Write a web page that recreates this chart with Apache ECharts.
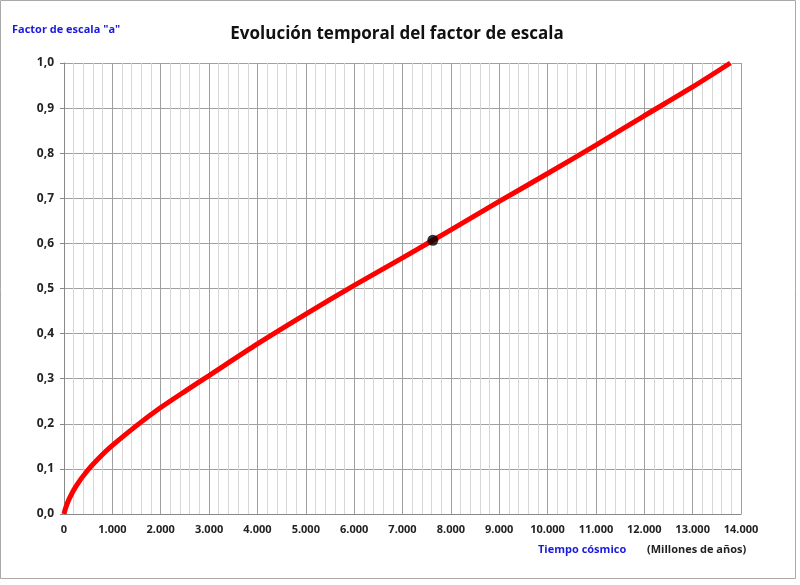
<!DOCTYPE html>
<html>
<head>
<meta charset="utf-8">
<script src="https://cdn.jsdelivr.net/npm/echarts@6/dist/echarts.min.js"></script>
<style>html,body{margin:0;padding:0;background:#fff}#c{width:800px;height:585px}</style>
</head>
<body>
<div id="c"></div>
<script>
var timeMyr = [0, 30, 100, 250, 490, 750, 1000, 1500, 2000, 2500, 3000, 4000, 5000, 6000, 7000, 7627, 8000, 9000, 10000, 11000, 12000, 13000, 13780];
var scaleFactor = [0, 0.012, 0.032, 0.062, 0.097, 0.127, 0.152, 0.196, 0.236, 0.272, 0.307, 0.377, 0.443, 0.507, 0.568, 0.607, 0.630, 0.693, 0.755, 0.818, 0.883, 0.947, 1.0];
var todayPoint = [7627, 0.607];
var titleText = 'Evolución temporal del factor de escala';
var yName = 'Factor de escala "a"';
var xName1 = 'Tiempo cósmico';
var xName2 = '(Millones de años)';

var lineData = timeMyr.map(function (t, i) { return [t, scaleFactor[i]]; });
var font = '"Open Sans", "Liberation Sans", sans-serif';

var chart = echarts.init(document.getElementById('c'));
chart.setOption({
  animation: false,
  backgroundColor: '#fff',
  title: {
    text: titleText, left: 392, top: 21, textAlign: 'center',
    textStyle: { fontFamily: font, fontSize: 17, fontWeight: 'bold', color: '#111' }
  },
  grid: { left: 64, right: 59, top: 63, bottom: 71 },
  xAxis: {
    type: 'value', min: 0, max: 14000, interval: 1000,
    axisLine: { show: true, lineStyle: { color: '#888', width: 1 } },
    axisTick: { show: false },
    minorTick: { show: false, splitNumber: 5 },
    minorSplitLine: { show: true, lineStyle: { color: '#d6d6d6', width: 1 } },
    splitLine: { show: true, lineStyle: { color: '#a0a0a0', width: 1 } },
    axisLabel: {
      margin: 10, fontFamily: font, fontSize: 11, fontWeight: 'bold', color: '#222',
      formatter: function (v) { return v === 0 ? '0' : (v / 1000).toFixed(0) + '.000'; }
    }
  },
  yAxis: {
    type: 'value', min: 0, max: 1, interval: 0.1,
    axisLine: { show: true, lineStyle: { color: '#888', width: 1 } },
    axisTick: { show: true, length: 4, lineStyle: { color: '#888' } },
    splitLine: { show: true, lineStyle: { color: '#a0a0a0', width: 1 } },
    axisLabel: {
      margin: 10, fontFamily: font, fontSize: 12, fontWeight: 'bold', color: '#222',
      formatter: function (v) { return v.toFixed(1).replace('.', ','); }
    }
  },
  series: [
    {
      type: 'line', data: lineData, smooth: 0.25, showSymbol: false,
      lineStyle: { color: '#ff0000', width: 5 }, z: 3
    },
    {
      type: 'scatter', data: [todayPoint], symbolSize: 11,
      itemStyle: { color: '#000' }, z: 4
    }
  ],
  graphic: [
    { type: 'rect', shape: { x: 0.5, y: 0.5, width: 795, height: 578 },
      style: { fill: 'none', stroke: '#a8a8a8', lineWidth: 1 }, z: -1 },
    { type: 'text', left: 12, top: 24,
      style: { text: yName, fontFamily: font, fontSize: 11, fontWeight: 'bold', fill: '#1a1adc' } },
    { type: 'text', left: 538, top: 544,
      style: { text: xName1, fontFamily: font, fontSize: 11, fontWeight: 'bold', fill: '#1a1adc' } },
    { type: 'text', left: 647, top: 544,
      style: { text: xName2, fontFamily: font, fontSize: 11, fontWeight: 'bold', fill: '#222' } }
  ]
});
</script>
</body>
</html>
